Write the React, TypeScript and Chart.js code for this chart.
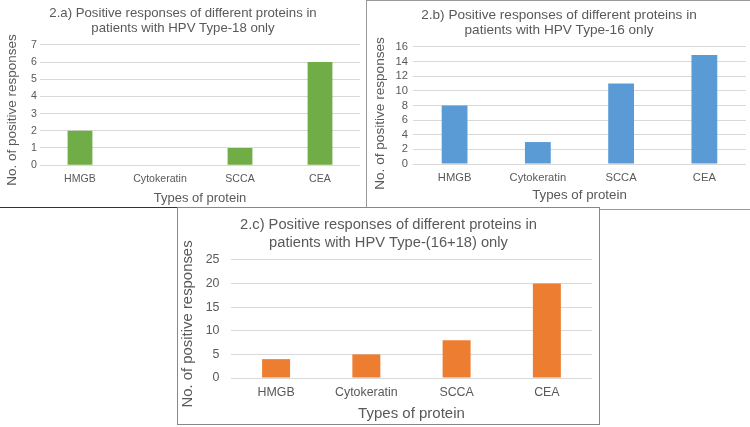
import React, { useEffect, useRef } from "react";
import { Chart, registerables } from "chart.js";

Chart.register(...registerables);

const categories = ["HMGB", "Cytokeratin", "SCCA", "CEA"];
const valuesA = [2, 0, 1, 6];
const valuesB = [8, 3, 11, 15];
const valuesC = [4, 5, 8, 20];
const titleA = ["2.a) Positive responses of different proteins in", "patients with HPV Type-18 only"];
const titleB = ["2.b) Positive responses of different proteins in", "patients with HPV Type-16 only"];
const titleC = ["2.c) Positive responses of different proteins in", "patients with HPV Type-(16+18) only"];
const yTitle = "No. of positive responses";
const xTitle = "Types of protein";

const FONT = "'Liberation Sans', Arial, sans-serif";
const TEXT = "#595959";

type PanelProps = {
  left: number; top: number; width: number; height: number;
  border: string;
  labels: string[]; values: number[]; title: string[];
  color: string; max: number; step: number;
  titleSize: number; titleLH: number; tickSize: number; yTitleSize: number; xTitleSize: number;
  padTop: number; padBottom: number; rightGap: number;
  titleBottom: number;
  xTickLen: number; xTickPad: number; xTitlePadTop: number;
  yTickLen: number; yTickPad: number; yTitlePad: { top: number; bottom: number };
  yTitleShift: number;
  z: number;
};

function Panel(p: PanelProps) {
  const ref = useRef<HTMLCanvasElement | null>(null);
  useEffect(() => {
    if (!ref.current) return;
    const shiftTitle = {
      id: "shiftYTitle",
      afterLayout(chart: any) {
        const s = chart.scales.y;
        s.top += p.yTitleShift;
        s.bottom += p.yTitleShift;
      },
    };
    const chart = new Chart(ref.current, {
      type: "bar",
      data: {
        labels: p.labels,
        datasets: [{
          data: p.values,
          backgroundColor: p.color,
          barPercentage: 0.31,
          categoryPercentage: 1,
          yAxisID: "y",
        }],
      },
      options: {
        animation: false,
        responsive: false,
        maintainAspectRatio: false,
        layout: { padding: { left: 0, right: 0, top: p.padTop, bottom: p.padBottom } },
        plugins: {
          legend: { display: false },
          tooltip: { enabled: false },
          title: {
            display: true,
            text: p.title,
            color: TEXT,
            font: { family: FONT, size: p.titleSize, weight: "normal", lineHeight: p.titleLH },
            padding: { top: 0, bottom: p.titleBottom },
          },
        },
        scales: {
          x: {
            grid: { display: false, drawTicks: true, tickLength: p.xTickLen },
            border: { display: false },
            ticks: { color: TEXT, font: { family: FONT, size: p.tickSize }, padding: p.xTickPad, maxRotation: 0, autoSkip: false },
            title: { display: true, text: xTitle, color: TEXT, font: { family: FONT, size: p.xTitleSize }, padding: { top: p.xTitlePadTop, bottom: 0 } },
          },
          y: {
            min: 0, max: p.max,
            grid: { color: "#d9d9d9", drawTicks: true, tickLength: p.yTickLen, tickColor: "rgba(0,0,0,0)" },
            border: { display: false },
            ticks: { stepSize: p.step, autoSkip: false, color: TEXT, font: { family: FONT, size: p.tickSize }, padding: p.yTickPad },
            title: { display: true, text: yTitle, color: TEXT, font: { family: FONT, size: p.yTitleSize }, padding: p.yTitlePad },
          },
          gap: {
            type: "linear",
            position: "right",
            display: true,
            grid: { display: false, drawTicks: false },
            border: { display: false },
            ticks: { display: false },
            afterFit: (s: any) => { s.width = p.rightGap; },
          },
        },
      },
      plugins: [shiftTitle],
    });
    return () => chart.destroy();
  }, []);
  return (
    <div style={{ position: "absolute", left: p.left, top: p.top, width: p.width, height: p.height, border: p.border, background: "#fff", zIndex: p.z, boxSizing: "border-box" }}>
      <canvas ref={ref} width={p.width - 2} height={p.height - 2} style={{ display: "block" }} />
    </div>
  );
}

export default function App() {
  return (
    <div style={{ position: "absolute", left: 0, top: 0, width: 750, height: 427, background: "#fff", overflow: "hidden" }}>
      <Panel left={-1} top={-1} width={368} height={209} border="1px solid #333" labels={categories} values={valuesA} title={titleA}
        color="#70AD47" max={7} step={1} titleSize={13.2} titleLH={1.15} tickSize={10.6} yTitleSize={13.5} xTitleSize={13}
        padTop={6} padBottom={1} rightGap={6} titleBottom={8.5}
        xTickLen={5.6} xTickPad={2} xTitlePadTop={2.9}
        yTickLen={2} yTickPad={1} yTitlePad={{ top: 3.9, bottom: 10 }} yTitleShift={5} z={1} />
      <Panel left={366} top={0} width={386} height={210} border="1px solid #999" labels={categories} values={valuesB} title={titleB}
        color="#5B9BD5" max={16} step={2} titleSize={13.6} titleLH={1.1} tickSize={11.2} yTitleSize={13.6} xTitleSize={13.3}
        padTop={6.5} padBottom={6} rightGap={5} titleBottom={9.5}
        xTickLen={6.3} xTickPad={1} xTitlePadTop={1.3}
        yTickLen={4} yTickPad={1} yTitlePad={{ top: 4.8, bottom: 6.4 }} yTitleShift={8} z={1} />
      <Panel left={177} top={207} width={423} height={218} border="1px solid #888" labels={categories} values={valuesC} title={titleC}
        color="#ED7D31" max={25} step={5} titleSize={14.7} titleLH={1.2} tickSize={12.4} yTitleSize={14.9} xTitleSize={15}
        padTop={8.2} padBottom={1} rightGap={7} titleBottom={8.5}
        xTickLen={5.6} xTickPad={2} xTitlePadTop={2.5}
        yTickLen={10.5} yTickPad={1} yTitlePad={{ top: 1, bottom: 7.8 }} yTitleShift={5} z={2} />
    </div>
  );
}
